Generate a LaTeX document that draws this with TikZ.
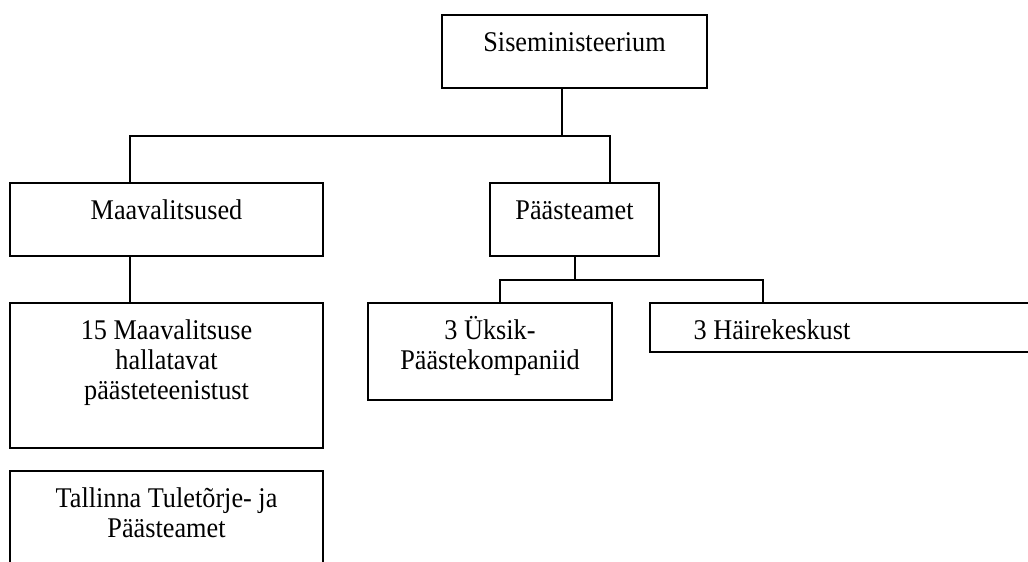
\documentclass[tikz,border=0pt]{standalone}
\usepackage{fontspec}
\setmainfont{Liberation Serif}[FakeStretch=0.92]
\newcommand{\tp}{\rule{0pt}{20pt}}
\begin{document}
\begin{tikzpicture}[x=0.75pt,y=-0.75pt,
  box/.style={draw, line width=1.4pt, inner sep=0pt, outer sep=0pt, anchor=north west},
  lbl/.style={anchor=north, yshift=-7pt, align=center, inner sep=0pt,
    font=\fontsize{21.4}{22.5}\selectfont},
  conn/.style={line width=1.4pt}]
\clip (0,0) rectangle (1028,561);
\fill[white] (0,0) rectangle (1028,561);
\node[box, minimum width=198.75pt, minimum height=54.75pt,
  label={[lbl]north:\tp Siseministeerium}] (sise) at (442,15) {};
\node[box, minimum width=234.75pt, minimum height=54.75pt,
  label={[lbl]north:\tp Maavalitsused}] (maav) at (10,183) {};
\node[box, minimum width=126.75pt, minimum height=54.75pt,
  label={[lbl]north:\tp Päästeamet}] (paast) at (490,183) {};
\node[box, minimum width=234.75pt, minimum height=108.75pt,
  label={[lbl]north:\tp 15 Maavalitsuse\\hallatavat\\päästeteenistust}] (mv) at (10,303) {};
\node[box, minimum width=234.75pt, minimum height=97.5pt,
  label={[lbl]north:\tp Tallinna Tuletõrje- ja\\Päästeamet}] (tall) at (10,471) {};
\node[box, minimum width=183pt, minimum height=72.75pt,
  label={[lbl]north:\tp 3 Üksik-\\Päästekompaniid}] (uksik) at (368,303) {};
\node[box, minimum width=315pt, minimum height=36.75pt,
  label={[lbl,xshift=-66pt]north:\tp 3 Häirekeskust}] (haire) at (650,303) {};
\coordinate (j1) at (562,136);
\coordinate (j2) at (130,136);
\coordinate (j3) at (610,136);
\coordinate (k1) at (575,280);
\coordinate (k2) at (500,280);
\coordinate (k3) at (763,280);
\draw[conn] (sise.south -| j1) -- (j1);
\draw[conn] (maav.north -| j2) -- (j2) -- (j3) -- (paast.north -| j3);
\draw[conn] (maav.south -| j2) -- (mv.north -| j2);
\draw[conn] (paast.south -| k1) -- (k1);
\draw[conn] (uksik.north -| k2) -- (k2) -- (k3) -- (haire.north -| k3);
\end{tikzpicture}
\end{document}
